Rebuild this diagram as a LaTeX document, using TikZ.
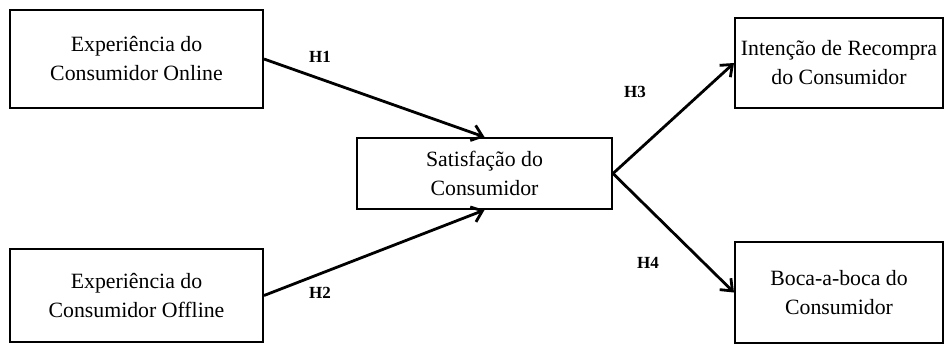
\documentclass[tikz,border=0pt]{standalone}
\usepackage{fontspec}
\setmainfont{Liberation Serif}
\usetikzlibrary{arrows.meta}

\tikzset{
  construct/.style={draw, rectangle, line width=1pt, align=center, inner sep=0pt,
    font=\fontsize{10.9}{14.5}\selectfont},
  hyp/.style={font=\fontsize{8.5}{10}\selectfont\bfseries, inner sep=0pt},
}

\begin{document}
\begin{tikzpicture}[x=0.5pt, y=-0.5pt, >={Straight Barb[length=5pt,width=8pt]}, line width=1.4pt]
    \useasboundingbox (0,0) rectangle (946,344);

    \node [construct, minimum width=126.5pt, minimum height=49pt] (online) at (136.5,59) {Experiência do\\Consumidor Online};
    \node [construct, minimum width=126.5pt, minimum height=46.5pt] (offline) at (136.5,295.5) {Experiência do\\Consumidor Offline};
    \node [construct, minimum width=127.5pt, minimum height=35.5pt] (satisfacao) at (484.5,173.5) {Satisfação do\\Consumidor};
    \node [construct, minimum width=104pt, minimum height=45pt] (recompra) at (839,63) {Intenção de Recompra\\do Consumidor};
    \node [construct, minimum width=104pt, minimum height=50.5pt] (boca) at (839,292.5) {Boca-a-boca do\\Consumidor};

    \node [hyp] (h1) at (320,57) {H1};
    \node [hyp] (h2) at (320,293) {H2};
    \node [hyp] (h3) at (635,92) {H3};
    \node [hyp] (h4) at (648,263) {H4};

    \draw [->] (online.east) -- (satisfacao.north);
    \draw [->] (offline.east) -- (satisfacao.south);
    \draw [->] (satisfacao.east) -- (recompra.west);
    \draw [->] (satisfacao.east) -- (boca.west);
\end{tikzpicture}
\end{document}
